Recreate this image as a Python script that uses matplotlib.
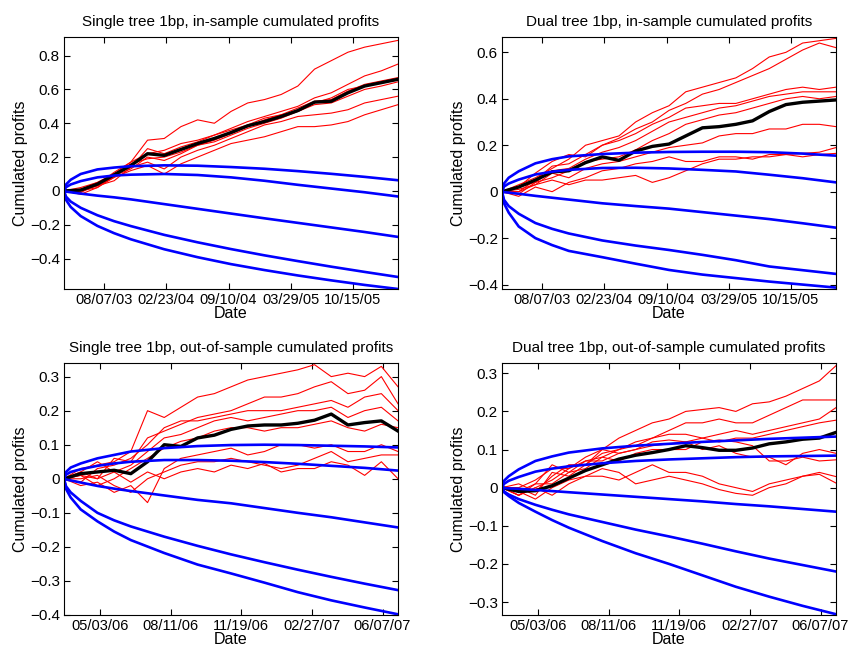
import numpy as np
import pandas as pd
import matplotlib
matplotlib.use('Agg')
import matplotlib.pyplot as plt
import matplotlib.dates as mdates
from matplotlib.ticker import FuncFormatter

plt.rcParams['font.family'] = ['Liberation Sans', 'DejaVu Sans']

# date spans of the two periods
in_start, in_end = '2003-03-30', '2006-03-10'
out_start, out_end = '2006-03-13', '2007-06-29'
in_ticks = ['2003-08-07', '2004-02-23', '2004-09-10', '2005-03-29', '2005-10-15']
out_ticks = ['2006-05-03', '2006-08-11', '2006-11-19', '2007-02-27', '2007-06-07']

# red / black paths are read at 21 evenly spaced dates of each period
# blue bands are read at these fractions of the period
band_frac = [0, 0.006, 0.02, 0.05, 0.1, 0.15, 0.2, 0.3, 0.4, 0.5, 0.6, 0.7, 0.8, 0.9, 1.0]

# ---- single tree, in-sample ----
tl_mean = [0, 0.005, 0.04, 0.095, 0.15, 0.22, 0.21, 0.245, 0.28, 0.31, 0.345, 0.385, 0.41, 0.44, 0.475, 0.525, 0.53, 0.58, 0.62, 0.64, 0.66]
tl_runs = [
    [0, 0.01, 0.05, 0.10, 0.17, 0.30, 0.31, 0.38, 0.42, 0.40, 0.47, 0.52, 0.54, 0.57, 0.62, 0.72, 0.77, 0.82, 0.85, 0.87, 0.89],
    [0, -0.01, 0.04, 0.11, 0.17, 0.22, 0.24, 0.28, 0.30, 0.33, 0.37, 0.41, 0.44, 0.47, 0.50, 0.55, 0.58, 0.63, 0.68, 0.71, 0.75],
    [0, 0.02, 0.05, 0.10, 0.14, 0.25, 0.22, 0.26, 0.29, 0.33, 0.36, 0.39, 0.43, 0.45, 0.49, 0.53, 0.54, 0.59, 0.63, 0.65, 0.67],
    [0, 0.0, 0.03, 0.08, 0.16, 0.19, 0.20, 0.23, 0.27, 0.30, 0.34, 0.38, 0.42, 0.45, 0.47, 0.52, 0.55, 0.60, 0.62, 0.64, 0.66],
    [0, -0.02, 0.02, 0.09, 0.13, 0.20, 0.18, 0.22, 0.27, 0.29, 0.33, 0.37, 0.40, 0.43, 0.47, 0.51, 0.52, 0.56, 0.60, 0.62, 0.645],
    [0, 0.01, 0.03, 0.06, 0.14, 0.17, 0.13, 0.20, 0.24, 0.27, 0.31, 0.35, 0.39, 0.41, 0.44, 0.45, 0.46, 0.48, 0.52, 0.54, 0.56],
    [0, 0.0, 0.02, 0.08, 0.12, 0.15, 0.10, 0.16, 0.20, 0.24, 0.28, 0.30, 0.32, 0.35, 0.38, 0.38, 0.39, 0.41, 0.45, 0.48, 0.51],
]
tl_bands = [
    [0, 0.038, 0.066, 0.100, 0.127, 0.138, 0.146, 0.151, 0.149, 0.141, 0.131, 0.117, 0.101, 0.083, 0.063],
    [0, 0.022, 0.038, 0.058, 0.080, 0.091, 0.096, 0.100, 0.094, 0.080, 0.060, 0.036, 0.014, -0.008, -0.033],
    [0, -0.004, -0.008, -0.016, -0.028, -0.038, -0.05, -0.078, -0.106, -0.134, -0.162, -0.189, -0.216, -0.243, -0.272],
    [0, -0.034, -0.063, -0.100, -0.144, -0.179, -0.208, -0.26, -0.304, -0.344, -0.381, -0.415, -0.448, -0.479, -0.509],
    [0, -0.053, -0.095, -0.149, -0.207, -0.25, -0.286, -0.345, -0.392, -0.433, -0.468, -0.5, -0.529, -0.556, -0.58],
]

# ---- dual tree, in-sample ----
tr_mean = [0, 0.02, 0.05, 0.085, 0.09, 0.125, 0.15, 0.135, 0.175, 0.195, 0.205, 0.24, 0.275, 0.28, 0.29, 0.305, 0.345, 0.375, 0.385, 0.39, 0.395]
tr_runs = [
    [0, 0.03, 0.06, 0.10, 0.14, 0.20, 0.22, 0.24, 0.30, 0.34, 0.37, 0.43, 0.45, 0.47, 0.49, 0.53, 0.58, 0.60, 0.64, 0.65, 0.66],
    [0, 0.02, 0.08, 0.13, 0.16, 0.15, 0.20, 0.23, 0.27, 0.30, 0.35, 0.38, 0.42, 0.44, 0.47, 0.50, 0.53, 0.57, 0.61, 0.64, 0.62],
    [0, 0.0, 0.05, 0.11, 0.12, 0.16, 0.20, 0.22, 0.25, 0.29, 0.32, 0.36, 0.37, 0.38, 0.38, 0.40, 0.42, 0.44, 0.45, 0.44, 0.45],
    [0, 0.02, 0.04, 0.09, 0.10, 0.14, 0.17, 0.19, 0.22, 0.26, 0.30, 0.32, 0.34, 0.36, 0.37, 0.39, 0.41, 0.42, 0.43, 0.43, 0.43],
    [0, -0.01, 0.04, 0.06, 0.09, 0.13, 0.14, 0.15, 0.18, 0.22, 0.25, 0.29, 0.31, 0.33, 0.34, 0.36, 0.38, 0.40, 0.41, 0.40, 0.41],
    [0, 0.01, 0.03, 0.08, 0.06, 0.10, 0.12, 0.13, 0.15, 0.17, 0.19, 0.20, 0.21, 0.24, 0.25, 0.25, 0.27, 0.27, 0.29, 0.29, 0.28],
    [0, -0.02, 0.02, 0.0, 0.04, 0.06, 0.09, 0.10, 0.12, 0.13, 0.15, 0.13, 0.13, 0.15, 0.15, 0.14, 0.16, 0.16, 0.165, 0.17, 0.19],
    [0, 0.0, 0.03, 0.05, 0.03, 0.05, 0.05, 0.06, 0.07, 0.04, 0.06, 0.09, 0.12, 0.14, 0.14, 0.15, 0.15, 0.16, 0.15, 0.16, 0.165],
]
tr_bands = [
    [0, 0.035, 0.06, 0.088, 0.122, 0.14, 0.152, 0.162, 0.168, 0.171, 0.172, 0.172, 0.17, 0.164, 0.155],
    [0, 0.022, 0.035, 0.052, 0.074, 0.086, 0.094, 0.102, 0.103, 0.100, 0.094, 0.087, 0.073, 0.058, 0.040],
    [0, -0.002, -0.004, -0.009, -0.018, -0.026, -0.034, -0.05, -0.062, -0.073, -0.088, -0.103, -0.118, -0.136, -0.155],
    [0, -0.035, -0.062, -0.095, -0.135, -0.16, -0.18, -0.21, -0.232, -0.251, -0.272, -0.295, -0.322, -0.338, -0.354],
    [0, -0.05, -0.09, -0.15, -0.2, -0.23, -0.255, -0.282, -0.31, -0.337, -0.357, -0.372, -0.387, -0.40, -0.413],
]

# ---- single tree, out-of-sample ----
bl_mean = [0, 0.015, 0.02, 0.025, 0.015, 0.05, 0.1, 0.095, 0.12, 0.128, 0.145, 0.155, 0.158, 0.158, 0.163, 0.172, 0.19, 0.158, 0.165, 0.17, 0.14]
bl_runs = [
    [0, 0.03, 0.04, 0.05, 0.08, 0.20, 0.18, 0.21, 0.24, 0.25, 0.27, 0.29, 0.30, 0.31, 0.32, 0.335, 0.30, 0.31, 0.30, 0.33, 0.27],
    [0, 0.02, 0.0, 0.06, 0.05, 0.12, 0.14, 0.16, 0.18, 0.19, 0.20, 0.22, 0.24, 0.24, 0.25, 0.27, 0.285, 0.25, 0.26, 0.30, 0.22],
    [0, -0.01, 0.03, 0.04, 0.06, 0.10, 0.15, 0.17, 0.17, 0.18, 0.19, 0.20, 0.20, 0.20, 0.21, 0.22, 0.23, 0.21, 0.24, 0.25, 0.20],
    [0, 0.02, 0.05, 0.02, 0.04, 0.08, 0.12, 0.13, 0.15, 0.17, 0.18, 0.17, 0.18, 0.19, 0.20, 0.20, 0.21, 0.18, 0.20, 0.21, 0.17],
    [0, 0.01, -0.02, 0.0, 0.03, 0.06, 0.09, 0.11, 0.12, 0.14, 0.15, 0.15, 0.14, 0.15, 0.15, 0.16, 0.17, 0.15, 0.14, 0.16, 0.15],
    [0, -0.02, -0.01, -0.04, -0.02, -0.07, 0.03, 0.06, 0.07, 0.08, 0.09, 0.07, 0.08, 0.10, 0.10, 0.09, 0.10, 0.08, 0.08, 0.10, 0.08],
    [0, 0.0, 0.01, -0.02, -0.04, 0.0, 0.02, 0.04, 0.05, 0.05, 0.06, 0.05, 0.04, 0.03, 0.04, 0.06, 0.08, 0.05, 0.06, 0.07, 0.07],
    [0, 0.01, 0.0, 0.02, -0.01, 0.02, 0.0, 0.02, 0.03, 0.02, 0.04, 0.03, 0.045, 0.02, 0.03, 0.03, 0.05, 0.04, 0.01, 0.05, 0.0],
]
bl_bands = [
    [0, 0.02, 0.033, 0.045, 0.06, 0.07, 0.08, 0.09, 0.096, 0.099, 0.1, 0.099, 0.097, 0.095, 0.092],
    [0, 0.012, 0.02, 0.028, 0.038, 0.045, 0.05, 0.055, 0.055, 0.053, 0.049, 0.044, 0.038, 0.032, 0.024],
    [0, -0.002, -0.005, -0.011, -0.021, -0.029, -0.036, -0.049, -0.062, -0.072, -0.086, -0.100, -0.113, -0.128, -0.143],
    [0, -0.022, -0.04, -0.065, -0.1, -0.122, -0.14, -0.17, -0.197, -0.222, -0.245, -0.267, -0.288, -0.308, -0.327],
    [0, -0.03, -0.055, -0.09, -0.125, -0.155, -0.18, -0.218, -0.252, -0.278, -0.305, -0.333, -0.357, -0.378, -0.398],
]

# ---- dual tree, out-of-sample ----
br_mean = [0, -0.01, -0.008, 0.005, 0.025, 0.045, 0.06, 0.075, 0.085, 0.092, 0.1, 0.11, 0.105, 0.098, 0.098, 0.104, 0.115, 0.12, 0.127, 0.13, 0.145]
br_runs = [
    [0, 0.0, 0.02, 0.05, 0.05, 0.08, 0.10, 0.13, 0.15, 0.17, 0.18, 0.20, 0.205, 0.21, 0.20, 0.22, 0.225, 0.24, 0.26, 0.28, 0.32],
    [0, -0.01, 0.01, 0.06, 0.04, 0.07, 0.08, 0.10, 0.12, 0.13, 0.15, 0.17, 0.17, 0.18, 0.17, 0.17, 0.19, 0.21, 0.23, 0.23, 0.23],
    [0, 0.01, -0.01, 0.03, 0.06, 0.06, 0.09, 0.10, 0.11, 0.13, 0.14, 0.14, 0.13, 0.14, 0.15, 0.14, 0.15, 0.16, 0.17, 0.18, 0.21],
    [0, -0.02, 0.0, 0.02, 0.05, 0.07, 0.07, 0.09, 0.10, 0.12, 0.125, 0.12, 0.13, 0.12, 0.13, 0.13, 0.14, 0.15, 0.16, 0.17, 0.177],
    [0, 0.0, -0.02, 0.04, 0.03, 0.06, 0.10, 0.09, 0.10, 0.11, 0.115, 0.12, 0.10, 0.11, 0.09, 0.08, 0.08, 0.06, 0.09, 0.10, 0.09],
    [0, -0.02, 0.01, 0.01, 0.04, 0.05, 0.08, 0.07, 0.09, 0.10, 0.10, 0.10, 0.12, 0.125, 0.12, 0.11, 0.07, 0.07, 0.08, 0.07, 0.073],
    [0, -0.01, -0.03, 0.0, 0.02, 0.03, 0.05, 0.04, 0.01, 0.02, 0.03, 0.02, 0.01, -0.005, -0.015, -0.02, 0.0, 0.01, 0.03, 0.04, 0.029],
    [0, -0.02, 0.0, -0.02, 0.01, 0.03, 0.03, 0.02, 0.04, 0.06, 0.04, 0.04, 0.03, 0.01, 0.0, -0.01, 0.01, 0.02, 0.03, 0.035, 0.012],
]
br_bands = [
    [0, 0.018, 0.03, 0.048, 0.07, 0.082, 0.092, 0.103, 0.11, 0.115, 0.12, 0.124, 0.128, 0.131, 0.134],
    [0, 0.01, 0.018, 0.028, 0.042, 0.05, 0.056, 0.064, 0.07, 0.074, 0.077, 0.08, 0.082, 0.083, 0.084],
    [0, -0.001, -0.002, -0.003, -0.006, -0.009, -0.012, -0.018, -0.024, -0.030, -0.036, -0.043, -0.049, -0.056, -0.063],
    [0, -0.01, -0.018, -0.03, -0.045, -0.058, -0.07, -0.09, -0.11, -0.128, -0.147, -0.167, -0.186, -0.203, -0.22],
    [0, -0.012, -0.022, -0.04, -0.063, -0.085, -0.105, -0.14, -0.172, -0.2, -0.23, -0.26, -0.286, -0.31, -0.332],
]

panels = [
    ('Single tree 1bp, in-sample cumulated profits', 'in', tl_mean, tl_runs, tl_bands, (-0.58, 0.91), [-0.4, -0.2, 0, 0.2, 0.4, 0.6, 0.8]),
    ('Dual tree 1bp, in-sample cumulated profits', 'in', tr_mean, tr_runs, tr_bands, (-0.419, 0.666), [-0.4, -0.2, 0, 0.2, 0.4, 0.6]),
    ('Single tree 1bp, out-of-sample cumulated profits', 'out', bl_mean, bl_runs, bl_bands, (-0.4, 0.34), [-0.4, -0.3, -0.2, -0.1, 0, 0.1, 0.2, 0.3]),
    ('Dual tree 1bp, out-of-sample cumulated profits', 'out', br_mean, br_runs, br_bands, (-0.334, 0.327), [-0.3, -0.2, -0.1, 0, 0.1, 0.2, 0.3]),
]
axes_pos = [
    [0.0755, 0.5547, 0.3939, 0.3883],
    [0.592, 0.5547, 0.3939, 0.3883],
    [0.0755, 0.0524, 0.3939, 0.3883],
    [0.592, 0.0524, 0.3939, 0.3883],
]


def fmt(v, pos):
    s = '%g' % round(v, 3)
    return s.replace('-', '\u2212')


fig = plt.figure(figsize=(8.48, 6.49), dpi=100)
for (title, period, mean, runs, bands, ylim, yticks), pos in zip(panels, axes_pos):
    ax = fig.add_axes(pos)
    if period == 'in':
        d0, d1, ticks = pd.Timestamp(in_start), pd.Timestamp(in_end), in_ticks
    else:
        d0, d1, ticks = pd.Timestamp(out_start), pd.Timestamp(out_end), out_ticks
    run_dates = pd.date_range(d0, d1, periods=len(mean))
    band_dates = [d0 + f * (d1 - d0) for f in band_frac]

    for r in runs:
        ax.plot(run_dates, r, color='red', lw=0.8)
    ax.plot(run_dates, mean, color='black', lw=2.4)
    for b in bands:
        ax.plot(band_dates, b, color='blue', lw=1.9)

    ax.set_xlim(d0, d1)
    ax.set_ylim(*ylim)
    ax.set_xticks(pd.to_datetime(ticks))
    ax.xaxis.set_major_formatter(mdates.DateFormatter('%m/%d/%y'))
    ax.set_yticks(yticks)
    ax.yaxis.set_major_formatter(FuncFormatter(fmt))
    ax.tick_params(direction='in', top=True, right=True, labelsize=11, length=4, pad=3)
    ax.tick_params(axis='x', labelsize=10.5)
    ax.set_title(title, fontsize=11, pad=8)
    ax.set_xlabel('Date', fontsize=11.5, labelpad=-1)
    ax.set_ylabel('Cumulated profits', fontsize=11.5, labelpad=1)

fig.savefig('out.png', dpi=100)
